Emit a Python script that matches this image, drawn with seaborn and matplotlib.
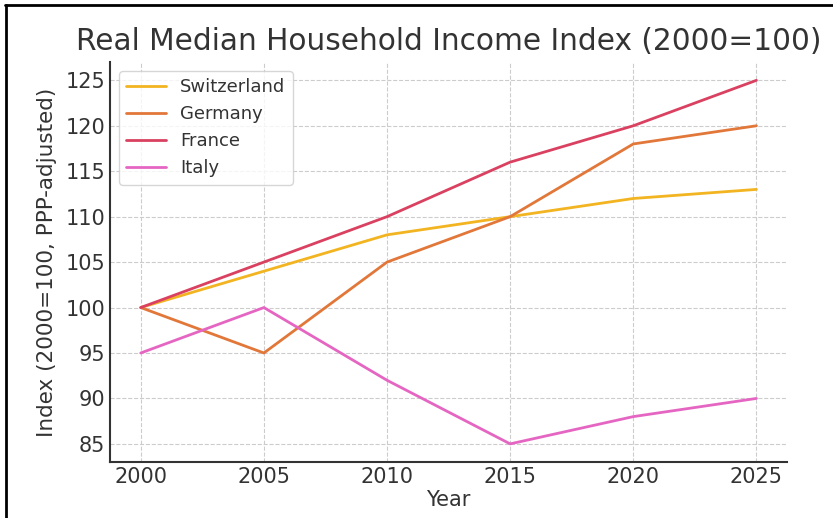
import matplotlib
matplotlib.use("Agg")
import matplotlib.pyplot as plt
import seaborn as sns
import pandas as pd
from matplotlib.lines import Line2D

years = [2000, 2005, 2010, 2015, 2020, 2025]
switzerland = [100, 104, 108, 110, 112, 113]
germany = [100, 95, 105, 110, 118, 120]
france = [100, 105, 110, 116, 120, 125]
italy = [95, 100, 92, 85, 88, 90]
countries = ["Switzerland", "Germany", "France", "Italy"]
colors = ["#F2B420", "#E2773A", "#DA4160", "#E566C2"]

df = pd.concat([
    pd.DataFrame({"Year": years, "Index": vals, "Country": name})
    for name, vals in zip(countries, [switzerland, germany, france, italy])
])

sns.set_theme(style="white")
plt.rcParams["font.family"] = ["DejaVu Sans"]

fig = plt.figure(figsize=(8.33, 5.18), dpi=100)
ax = fig.add_axes([0.132, 0.108, 0.813, 0.772])

sns.lineplot(data=df, x="Year", y="Index", hue="Country", palette=colors,
             hue_order=countries, linewidth=2, ax=ax, legend=False)

ax.grid(True, linestyle="--", color="#cccccc", linewidth=0.8)
ax.set_xticks(years)
ax.set_yticks([85, 90, 95, 100, 105, 110, 115, 120, 125])
ax.tick_params(direction="in", labelsize=15, colors="#333333", length=6, width=1)
for s in ["top", "right"]:
    ax.spines[s].set_visible(False)
for s in ["left", "bottom"]:
    ax.spines[s].set_color("#333333")
    ax.spines[s].set_linewidth(1.5)

ax.set_title("Real Median Household Income Index (2000=100)", fontsize=21.3,
             color="#333333", pad=9)
ax.set_xlabel("Year", fontsize=15, color="#333333", labelpad=2)
ax.set_ylabel("Index (2000=100, PPP-adjusted)", fontsize=15.5, color="#333333",
              labelpad=6)

handles = [Line2D([0], [0], color=c, lw=2) for c in colors]
leg = ax.legend(handles, countries, loc="upper left", fontsize=13,
                frameon=True, framealpha=0.8, edgecolor="#cccccc",
                labelcolor="#333333", handlelength=2.2)

fig.add_artist(Line2D([0.006, 1.0], [0.99, 0.99], transform=fig.transFigure,
                      color="black", lw=2))
fig.add_artist(Line2D([0.007, 0.007], [0.0, 0.99], transform=fig.transFigure,
                      color="black", lw=2))

fig.savefig("out.png", dpi=100)
